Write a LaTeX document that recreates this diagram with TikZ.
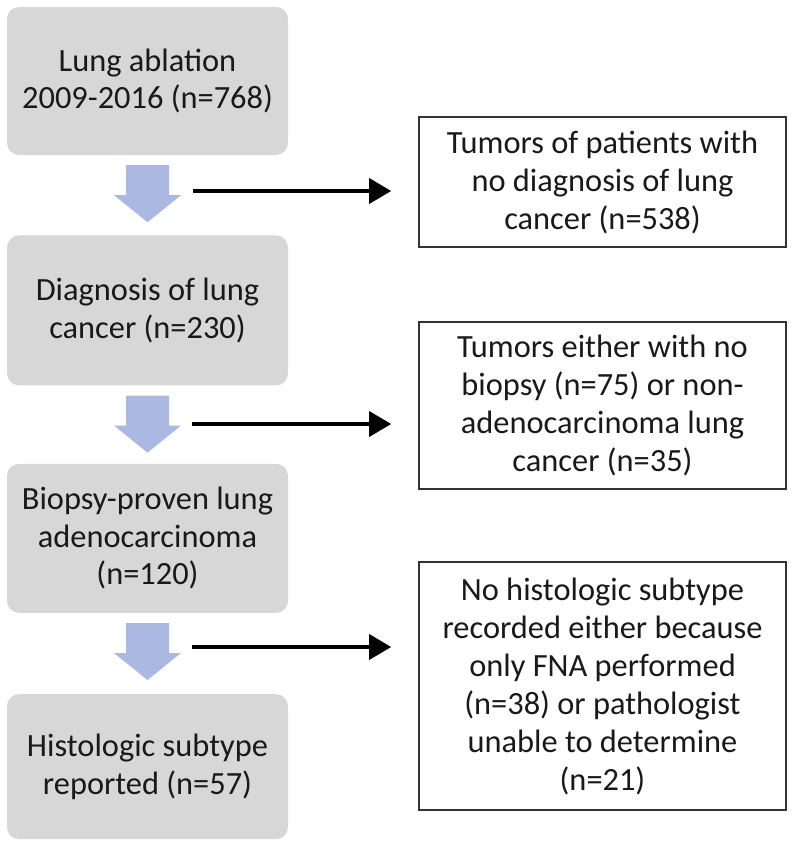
\documentclass[tikz,border=0pt]{standalone}
\usepackage{fontspec}
\setmainfont{Carlito}
\usepackage{tikz}
\usetikzlibrary{positioning,arrows.meta,calc}

\definecolor{boxgray}{RGB}{215,215,215}
\definecolor{flowblue}{RGB}{170,184,226}

\newcommand{\flowdown}[1]{\fill[flow, shift={($(#1.south)+(0,-10)$)}] (-21.5,0) -- (21.5,0) -- (21.5,-30) -- (33.5,-30) -- (0,-57) -- (-33.5,-30) -- (-21.5,-30) -- cycle;}

\begin{document}
\begin{tikzpicture}[x=1pt,y=1pt]

\tikzstyle{stage} = [fill=boxgray, rounded corners=12pt, minimum width=281pt, align=center, text=black!90, font=\fontsize{32.4}{37.5}\selectfont]
\tikzstyle{excl} = [draw=black!80, line width=1.6pt, minimum width=367pt, inner sep=0pt, align=center, text=black!90, font=\fontsize{32.4}{38}\selectfont]
\tikzstyle{line} = [draw, line width=3.5pt, -{Triangle[length=22pt,width=25pt]}, shorten >=27pt]
\tikzstyle{flow} = [fill=flowblue]

\useasboundingbox (0,0) rectangle (800,-843);

\node [stage, minimum height=148pt] (ablation) at (147.5,-81) {Lung ablation\\2009-2016 (n=768)};
\node [stage, minimum height=150pt, below=80pt of ablation] (diagnosis) {Diagnosis of lung\\cancer (n=230)};
\node [stage, minimum height=149pt, below=78pt of diagnosis] (adeno) {Biopsy-proven lung\\adenocarcinoma\\(n=120)};
\node [stage, minimum height=145pt, below=81pt of adeno] (subtype) {Histologic subtype\\reported (n=57)};

\node [excl, minimum height=130pt] (nodiag) at (602.5,-182) {Tumors of patients with\\no diagnosis of lung\\cancer (n=538)};
\node [excl, minimum height=167pt] (nobiopsy) at (602.5,-405.5) {Tumors either with no\\biopsy (n=75) or non-\\adenocarcinoma lung\\cancer (n=35)};
\node [excl, minimum height=248pt] (nohisto) at (602.5,-686) {No histologic subtype\\recorded either because\\only FNA performed\\(n=38) or pathologist\\unable to determine\\(n=21)};

%block arrows
\flowdown{ablation}
\flowdown{diagnosis}
\flowdown{adeno}

%arrows
\coordinate (out1) at (193,-191);
\coordinate (out2) at (192,-424);
\coordinate (out3) at (192,-647);
\path [line] (out1) -- (out1 -| nodiag.west);
\path [line] (out2) -- (out2 -| nobiopsy.west);
\path [line] (out3) -- (out3 -| nohisto.west);
\end{tikzpicture}
\end{document}
